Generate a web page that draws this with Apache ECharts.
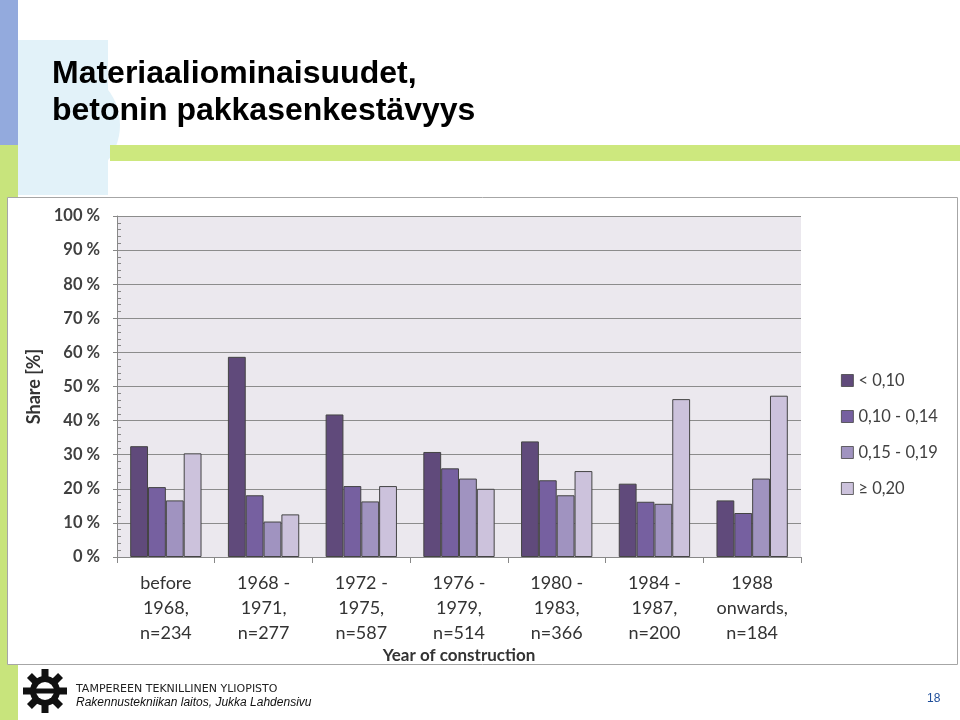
<!DOCTYPE html>
<html><head><meta charset="utf-8">
<script src="https://cdn.jsdelivr.net/npm/echarts@6/dist/echarts.min.js"></script>
<style>html,body{margin:0;padding:0;background:#fff}#c{width:960px;height:720px}</style>
</head><body><div id="c"></div>
<script>
const categories = ['before\n1968,\nn=234','1968 -\n1971,\nn=277','1972 -\n1975,\nn=587','1976 -\n1979,\nn=514','1980 -\n1983,\nn=366','1984 -\n1987,\nn=200','1988\nonwards,\nn=184'];
const seriesNames = ['< 0,10','0,10 - 0,14','0,15 - 0,19','\u2265 0,20'];
const lt010 = [32.5, 58.7, 41.8, 30.8, 33.9, 21.5, 16.6];
const r010_014 = [20.5, 18.1, 20.8, 26.0, 22.5, 16.2, 12.9];
const r015_019 = [16.6, 10.4, 16.3, 23.0, 18.1, 15.6, 23.0];
const ge020 = [30.4, 12.5, 20.8, 20.0, 25.2, 46.3, 47.3];
const colors = ['#604a7b','#7660a0','#a093c0','#ccc2dc'];
const title1 = 'Materiaaliominaisuudet,';
const title2 = 'betonin pakkasenkestävyys';

const chart = echarts.init(document.getElementById('c'), null, {renderer:'canvas'});
const font = 'Lato, "Open Sans", sans-serif';
const allData = [lt010, r010_014, r015_019, ge020];

const logo = [];
const cx = 45, cy = 691;
for (let i = 0; i < 8; i++) {
  logo.push({type:'rect', x: cx-3.5, y: cy-22, shape:{x:0,y:0,width:7,height:10}, originX: 3.5, originY: 22, rotation: i*Math.PI/4, style:{fill:'#111'}, z:20});
}
logo.push({type:'circle', shape:{cx:cx, cy:cy, r:15}, style:{fill:'#111'}, z:21});
logo.push({type:'circle', shape:{cx:cx, cy:cy, r:9}, style:{fill:'#fff'}, z:22});
logo.push({type:'rect', shape:{x:cx-12, y:cy-2.5, width:24, height:5}, style:{fill:'#111'}, z:23});

chart.setOption({
  backgroundColor: '#ffffff',
  animation: false,
  graphic: [
    {type:'circle', shape:{cx:62, cy:125, r:58}, style:{fill:'#e2f2f9'}, z:0},
    {type:'rect', shape:{x:18, y:40, width:90, height:155}, style:{fill:'#e2f2f9'}, z:0},
    {type:'rect', shape:{x:0, y:0, width:18, height:145}, style:{fill:'#93aadd'}, z:1},
    {type:'rect', shape:{x:0, y:145, width:18, height:575}, style:{fill:'#c8e47c'}, z:1},
    {type:'rect', shape:{x:110, y:145, width:850, height:16}, style:{fill:'#cde87e'}, z:1},
    {type:'text', x:52, y:58, style:{text:title1, font:'bold 32px "Liberation Sans", Arial, sans-serif', fill:'#000'}, z:5},
    {type:'text', x:52, y:95, style:{text:title2, font:'bold 32px "Liberation Sans", Arial, sans-serif', fill:'#000'}, z:5},
    {type:'rect', shape:{x:7.5, y:197.5, width:950, height:467}, style:{fill:'#fff', stroke:'#a6a6a6', lineWidth:1}, z:2},
    {type:'text', x:76, y:684, style:{text:'TAMPEREEN TEKNILLINEN YLIOPISTO', font:'11px "DejaVu Sans", sans-serif', fill:'#222'}, z:5},
    {type:'text', x:76, y:697, style:{text:'Rakennustekniikan laitos, Jukka Lahdensivu', font:'italic 12px "Liberation Sans", Arial, sans-serif', fill:'#111'}, z:5},
    {type:'text', x:927, y:693, style:{text:'18', font:'12px "Liberation Sans", Arial, sans-serif', fill:'#1f4e9a'}, z:5}
  ].concat(logo),
  grid: {left:117, right:159, top:216, bottom:163, show:true, backgroundColor:'#ebe8ee', borderWidth:0, z:3},
  legend: {
    orient:'vertical', left:836, top:367, itemWidth:12, itemHeight:12, itemGap:19,
    icon:'rect', data: seriesNames, z:6,
    textStyle:{fontFamily:font, fontSize:16.5, color:'#404040'},
    itemStyle:{borderColor:'#444', borderWidth:0.8}
  },
  xAxis: {
    type:'category', data: categories, z:6,
    name:'Year of construction', nameLocation:'middle', nameGap:83,
    nameTextStyle:{fontFamily:font, fontWeight:'bold', fontSize:17, color:'#333'},
    axisLine:{lineStyle:{color:'#888', width:1}},
    axisTick:{show:true, length:6, lineStyle:{color:'#888'}},
    axisLabel:{fontFamily:font, fontSize:18, lineHeight:25, color:'#333', margin:14, interval:0}
  },
  yAxis: [{
    type:'value', min:0, max:100, interval:10, z:6,
    name:'Share [%]', nameLocation:'middle', nameGap:73, nameRotate:90,
    nameTextStyle:{fontFamily:font, fontWeight:'bold', fontSize:18, color:'#333'},
    axisLine:{show:true, lineStyle:{color:'#888'}},
    axisTick:{show:true, length:4, lineStyle:{color:'#888'}},
    axisLabel:{formatter:'{value} %', fontFamily:font, fontWeight:'bold', fontSize:16.5, color:'#404040', margin:17},
    splitLine:{lineStyle:{color:'#8c8c8c', width:1.2}}
  },{
    type:'value', min:0, max:100, interval:10, position:'left', z:6,
    axisLine:{show:false}, axisLabel:{show:false}, splitLine:{show:false},
    axisTick:{show:false, inside:true},
    minorTick:{show:true, splitNumber:5, length:4, lineStyle:{color:'#888'}}
  }],
  series: seriesNames.map((n,i)=>({
    name:n, type:'bar', data: allData[i], barGap:'0%', barCategoryGap:'27%',
    itemStyle:{color:colors[i], borderColor:'#444', borderWidth:1}, z:7
  }))
});
</script></body></html>
